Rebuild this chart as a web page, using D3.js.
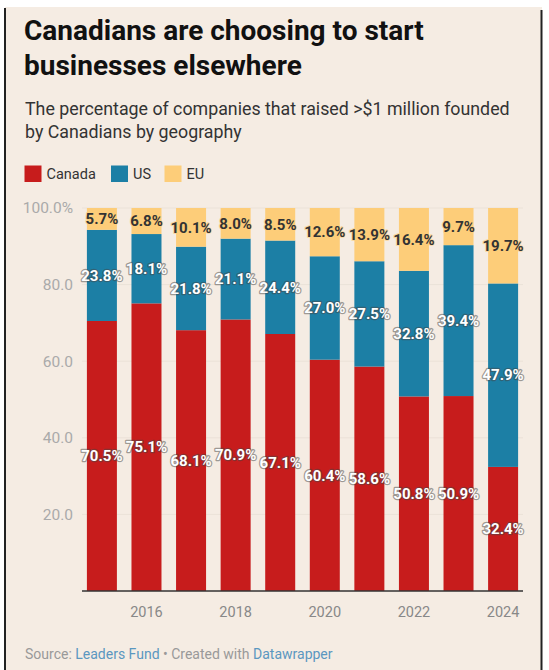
<!DOCTYPE html>
<html>
<head>
<meta charset="utf-8">
<script src="https://cdn.jsdelivr.net/npm/d3@7"></script>
<style>
  html, body { margin: 0; padding: 0; background: #fff; }
  svg { display: block; font-family: Roboto, "Noto Sans", sans-serif; }
  .title { font-size: 28px; font-weight: 700; fill: #111; }
  .subtitle { font-size: 17.8px; fill: #333; }
  .legend-label { font-size: 14.5px; fill: #333; }
  .y-tick { font-size: 15.5px; fill: #aaa; }
  .x-tick { font-size: 14.5px; fill: #888; }
  .bar-label { font-size: 15px; font-weight: 700; paint-order: stroke; stroke-linejoin: round; }
  .footer { font-size: 14px; fill: #999; }
</style>
</head>
<body>
<svg id="chart"></svg>
<script>
// data
var years = ['2015', '2016', '2017', '2018', '2019', '2020', '2021', '2022', '2023', '2024'];
var canada = [70.5, 75.1, 68.1, 70.9, 67.1, 60.4, 58.6, 50.8, 50.9, 32.4];
var us = [23.8, 18.1, 21.8, 21.1, 24.4, 27.0, 27.5, 32.8, 39.4, 47.9];
var eu = [5.7, 6.8, 10.1, 8.0, 8.5, 12.6, 13.9, 16.4, 9.7, 19.7];
var seriesNames = ['Canada', 'US', 'EU'];
var yTicks = [20, 40, 60, 80, 100];
var xTickYears = ['2016', '2018', '2020', '2022', '2024'];

var width = 549;
var height = 670;
var colors = { Canada: '#c71c1c', US: '#1c7fa5', EU: '#fdcd79' };

var svg = d3.select('#chart')
    .attr('width', width)
    .attr('height', height);

// beige card with dark side borders
svg.append('rect')
    .attr('x', 5).attr('y', 7)
    .attr('width', 537).attr('height', height - 7)
    .attr('fill', '#f5ece3');
svg.append('line')
    .attr('x1', 5).attr('x2', 5).attr('y1', 8).attr('y2', height)
    .attr('stroke', '#222').attr('stroke-width', 2);
svg.append('line')
    .attr('x1', 541.5).attr('x2', 541.5).attr('y1', 10).attr('y2', height)
    .attr('stroke', '#222').attr('stroke-width', 2);

// heading
svg.append('text').attr('class', 'title').attr('x', 24).attr('y', 40)
    .text('Canadians are choosing to start');
svg.append('text').attr('class', 'title').attr('x', 24).attr('y', 75)
    .text('businesses elsewhere');
svg.append('text').attr('class', 'subtitle').attr('x', 25).attr('y', 115)
    .text('The percentage of companies that raised >$1 million founded');
svg.append('text').attr('class', 'subtitle').attr('x', 25).attr('y', 138)
    .text('by Canadians by geography');

// legend
var legendX = [24.5, 111, 164.5];
var legend = svg.append('g').selectAll('g')
    .data(seriesNames)
    .enter()
    .append('g')
        .attr('transform', (d, i) => 'translate(' + legendX[i] + ',165.5)');
legend.append('rect')
    .attr('width', 17).attr('height', 16.5)
    .attr('fill', d => colors[d]);
legend.append('text')
    .attr('class', 'legend-label')
    .attr('x', 22).attr('y', 13.5)
    .text(d => d);

// scales
var x = d3.scaleBand()
    .domain(years)
    .range([82, 523])
    .paddingInner(0.327)
    .paddingOuter(0.11);

var y = d3.scaleLinear()
    .domain([0, 100])
    .range([591, 208]);

// gridlines
svg.append('g')
    .selectAll('line')
    .data(yTicks)
    .enter()
    .append('line')
        .attr('x1', 82).attr('x2', 523)
        .attr('y1', d => y(d)).attr('y2', d => y(d))
        .attr('stroke', '#ebe2d8').attr('stroke-width', 1);

// y tick labels
svg.append('g')
    .selectAll('text')
    .data(yTicks)
    .enter()
    .append('text')
        .attr('class', 'y-tick')
        .attr('x', 73)
        .attr('y', d => y(d))
        .attr('dy', '0.35em')
        .attr('text-anchor', 'end')
        .text(d => d === 100 ? '100.0%' : d.toFixed(1));

// stacked bars
var rows = years.map((yr, i) => ({ year: yr, Canada: canada[i], US: us[i], EU: eu[i] }));
var stack = d3.stack().keys(seriesNames)(rows);

var layers = svg.append('g')
    .selectAll('g')
    .data(stack)
    .enter()
    .append('g')
        .attr('fill', d => colors[d.key]);

layers.selectAll('rect')
    .data(d => d)
    .enter()
    .append('rect')
        .attr('x', d => x(d.data.year))
        .attr('width', x.bandwidth())
        .attr('y', d => y(d[1]))
        .attr('height', d => y(d[0]) - y(d[1]));

// baseline
svg.append('line')
    .attr('x1', 82).attr('x2', 523)
    .attr('y1', y(0)).attr('y2', y(0))
    .attr('stroke', '#333').attr('stroke-width', 1.5);

// value labels
stack.forEach(layer => {
    var dark = layer.key === 'EU';
    svg.append('g')
        .selectAll('text')
        .data(layer)
        .enter()
        .append('text')
            .attr('class', 'bar-label')
            .attr('x', d => x(d.data.year) + x.bandwidth() / 2)
            .attr('y', d => y((d[0] + d[1]) / 2))
            .attr('dy', '0.35em')
            .attr('text-anchor', 'middle')
            .attr('fill', dark ? '#333' : '#fff')
            .attr('stroke', dark ? 'rgba(253,205,121,0.6)' : 'rgba(70,70,70,0.5)')
            .attr('stroke-width', dark ? 2 : 2.5)
            .text(d => d.data[layer.key].toFixed(1) + '%');
});

// x tick labels
svg.append('g')
    .selectAll('text')
    .data(xTickYears)
    .enter()
    .append('text')
        .attr('class', 'x-tick')
        .attr('x', d => x(d) + x.bandwidth() / 2)
        .attr('y', 612)
        .attr('dy', '0.35em')
        .attr('text-anchor', 'middle')
        .text(d => d);

// footer
var footer = svg.append('text').attr('class', 'footer').attr('x', 25).attr('y', 659);
footer.append('tspan').text('Source: ');
footer.append('tspan').attr('fill', '#5b97c0').text('Leaders Fund');
footer.append('tspan').text(' \u2022 Created with ');
footer.append('tspan').attr('fill', '#5b97c0').text('Datawrapper');
</script>
</body>
</html>
